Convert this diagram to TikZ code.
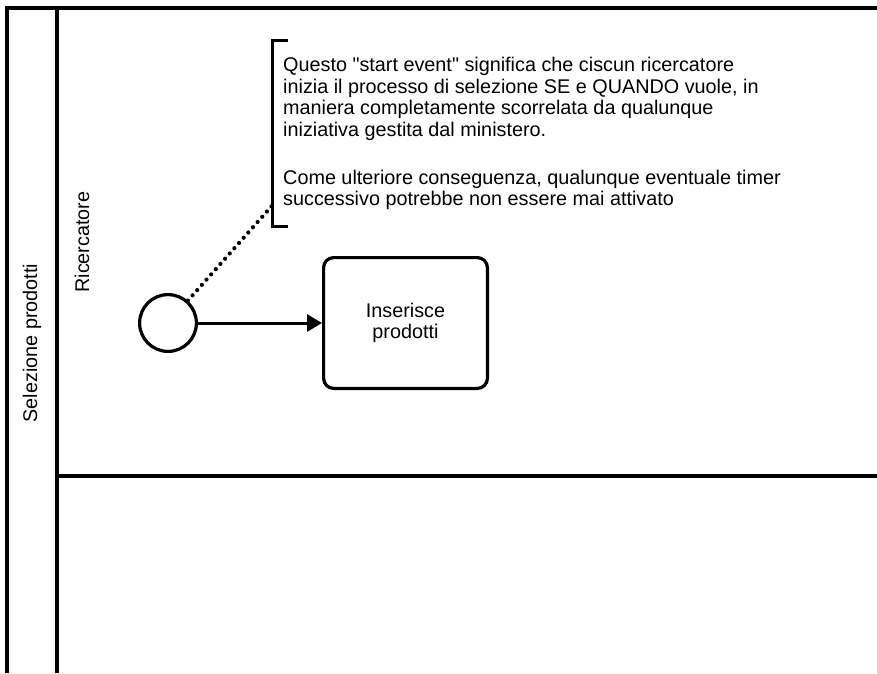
\documentclass[tikz,border=0pt]{standalone}
\usepackage{fontspec}
\setmainfont{Liberation Sans}
\usetikzlibrary{positioning,calc,arrows.meta}
\newcommand{\bpmnfont}{\fontsize{19.8}{21.4}\selectfont}

\begin{document}
\begin{tikzpicture}[
    x=1pt, y=-1pt,
    font=\bpmnfont,
    lane/.style={line width=3.3pt},
    event/.style={draw, circle, line width=3.2pt, minimum size=56.8pt, inner sep=0pt},
    task/.style={draw, rounded corners=10pt, line width=3.2pt, minimum width=163.8pt, minimum height=130.8pt, align=center},
    nota/.style={align=left, minimum height=185pt, inner xsep=11pt, inner ysep=0pt},
    bracket/.style={line width=3pt},
    flow/.style={line width=3pt, -{Triangle[length=15pt, width=17pt]}},
    assoc/.style={line width=4.2pt, line cap=round, dash pattern=on 0pt off 7pt}
]
\useasboundingbox (0,0) rectangle (877,673);

% Pool and lanes
\draw[lane] (7,673) -- (7,8) -- (877,8);
\draw[lane] (57,8) -- (57,673);
\draw[lane] (57,476) -- (877,476);

\node[rotate=90] (poolname) at (32,343) {Selezione prodotti};
\node[rotate=90] (lanename) at (82,242) {Ricercatore};

% Start event and task
\node[event] (start) at (168,323) {};
\node[task, right=124pt of start] (inserisce) {Inserisce\\prodotti};

\draw[flow] (start) -- (inserisce);

% Annotation
\node[nota, anchor=west] (nota) at (272,133.5) {Questo \textquotedbl start event\textquotedbl\ significa che ciscun ricercatore\\
inizia il processo di selezione SE e QUANDO vuole, in\\
maniera completamente scorrelata da qualunque\\
iniziativa gestita dal ministero.\\[26.6pt]
Come ulteriore conseguenza, qualunque eventuale timer\\
successivo potrebbe non essere mai attivato};

\draw[bracket] ($(nota.north west)+(16,0)$) -- (nota.north west) -- (nota.south west) -- ++(16,0);

\coordinate (hook) at ($(nota.south west)!0.11!(nota.north west)$);
\draw[assoc] (start) -- (hook);

\end{tikzpicture}
\end{document}
